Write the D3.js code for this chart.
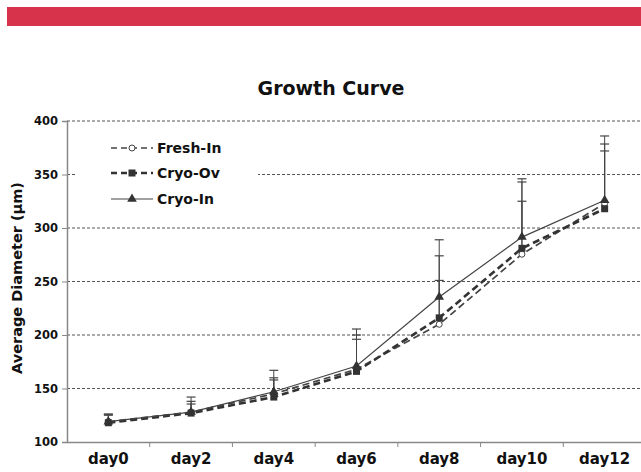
<!DOCTYPE html>
<html><head><meta charset="utf-8">
<script src="https://cdn.jsdelivr.net/npm/d3@7"></script>
<style>body{margin:0;background:#fff}svg{display:block}</style>
</head><body>
<script>
const days = ["day0","day2","day4","day6","day8","day10","day12"];
const freshIn = [119,128,145,168,210,275.5,323];
const cryoOv  = [118,127,142,166,216,281,318];
const cryoIn  = [119,128,147,171,235.5,291.5,326];
const freshInErr = [7,7.5,13,28,41,49.5,49];
const cryoOvErr  = [7,11,18,34,58,62,60.5];
const cryoInErr  = [7,14,20,34.6,53.5,54.5,60];
const yTicks = [100,150,200,250,300,350,400];
const seriesNames = ["Fresh-In","Cryo-Ov","Cryo-In"];

const W=641,H=472;
const svg=d3.select("body").append("svg").attr("width",W).attr("height",H);
svg.append("rect").attr("x",7).attr("y",7).attr("width",W-7).attr("height",19).attr("fill","#d7334a");

const x=d3.scaleBand().domain(days).range([67,646]);
const y=d3.scaleLinear().domain([100,400]).range([442,121]);
const font="DejaVu Sans, Verdana, sans-serif";

// gridlines
svg.append("g").selectAll("line").data(yTicks.filter(t=>t>100)).join("line")
 .attr("x1",67).attr("x2",W).attr("y1",d=>y(d)).attr("y2",d=>y(d))
 .attr("stroke","#555").attr("stroke-width",1).attr("stroke-dasharray","3,2");

// legend background
svg.append("rect").attr("x",77).attr("y",131).attr("width",181).attr("height",82).attr("fill","#fff");

// axes
const ya=svg.append("g").attr("transform","translate(67,0)")
 .call(d3.axisLeft(y).tickValues(yTicks).tickSize(5).tickPadding(4));
ya.select(".domain").attr("stroke","#888").attr("stroke-width",1.5);
ya.selectAll(".tick line").attr("stroke","#888");
ya.selectAll("text").attr("font-family",font).attr("font-weight","bold").attr("font-size","11.5px").attr("fill","#111");

const xa=svg.append("g").attr("transform","translate(0,442)")
 .call(d3.axisBottom(x).tickSize(0).tickPadding(11));
xa.select(".domain").attr("stroke","#888").attr("stroke-width",1.5);
xa.selectAll("text").attr("font-family",font).attr("font-weight","bold").attr("font-size","15px").attr("fill","#111");
svg.append("g").selectAll("line").data(days.slice(1)).join("line")
 .attr("x1",d=>x(d)).attr("x2",d=>x(d)).attr("y1",442).attr("y2",447).attr("stroke","#888");

// title & label
svg.append("text").attr("x",331).attr("y",95).attr("text-anchor","middle")
 .attr("font-family",font).attr("font-weight","bold").attr("font-size","19px").attr("fill","#111").text("Growth Curve");
svg.append("text").attr("transform","translate(22,278) rotate(-90)").attr("text-anchor","middle")
 .attr("font-family",font).attr("font-weight","bold").attr("font-size","14.5px").attr("fill","#111").text("Average Diameter (μm)");

const cx=d=>x(d)+x.bandwidth()/2;
const series=[
 {name:seriesNames[0],vals:freshIn,err:freshInErr,dash:"7,4",sw:1.7,stroke:"#444",marker:"circle"},
 {name:seriesNames[1],vals:cryoOv,err:cryoOvErr,dash:"7,4",sw:2.6,stroke:"#333",marker:"square"},
 {name:seriesNames[2],vals:cryoIn,err:cryoInErr,dash:null,sw:1.2,stroke:"#444",marker:"triangle"}
];
const line=d3.line().x(d=>cx(d[0])).y(d=>y(d[1]));

function marker(g,type,px,py){
 if(type==="circle") g.append("circle").attr("cx",px).attr("cy",py).attr("r",3).attr("fill","#fff").attr("stroke","#444").attr("stroke-width",1);
 else if(type==="square") g.append("rect").attr("x",px-3.5).attr("y",py-3.5).attr("width",7).attr("height",7).attr("fill","#333");
 else g.append("path").attr("d",d3.symbol(d3.symbolTriangle,40)()).attr("transform",`translate(${px},${py})`).attr("fill","#333");
}

series.forEach(s=>{
 const g=svg.append("g");
 days.forEach((d,i)=>{
  const top=y(s.vals[i]+s.err[i]);
  g.append("line").attr("x1",cx(d)).attr("x2",cx(d)).attr("y1",y(s.vals[i])).attr("y2",top).attr("stroke","#444").attr("stroke-width",1);
  g.append("line").attr("x1",cx(d)-4.5).attr("x2",cx(d)+4.5).attr("y1",top).attr("y2",top).attr("stroke","#444").attr("stroke-width",1.2);
 });
});
series.forEach(s=>{
 const g=svg.append("g");
 g.append("path").datum(days.map((d,i)=>[d,s.vals[i]])).attr("d",line)
  .attr("fill","none").attr("stroke",s.stroke).attr("stroke-width",s.sw).attr("stroke-dasharray",s.dash);
 days.forEach((d,i)=>marker(g,s.marker,cx(d),y(s.vals[i])));
});

// legend
const ly=[148,173,199];
series.forEach((s,i)=>{
 const g=svg.append("g");
 g.append("line").attr("x1",111).attr("x2",153).attr("y1",ly[i]).attr("y2",ly[i])
  .attr("stroke",s.stroke).attr("stroke-width",s.sw).attr("stroke-dasharray",s.dash?"6,4":null);
 marker(g,s.marker,132,ly[i]);
 g.append("text").attr("x",157).attr("y",ly[i]+5).attr("font-family",font).attr("font-weight","bold")
  .attr("font-size","14px").attr("fill","#111").text(s.name);
});
</script>
</body></html>
